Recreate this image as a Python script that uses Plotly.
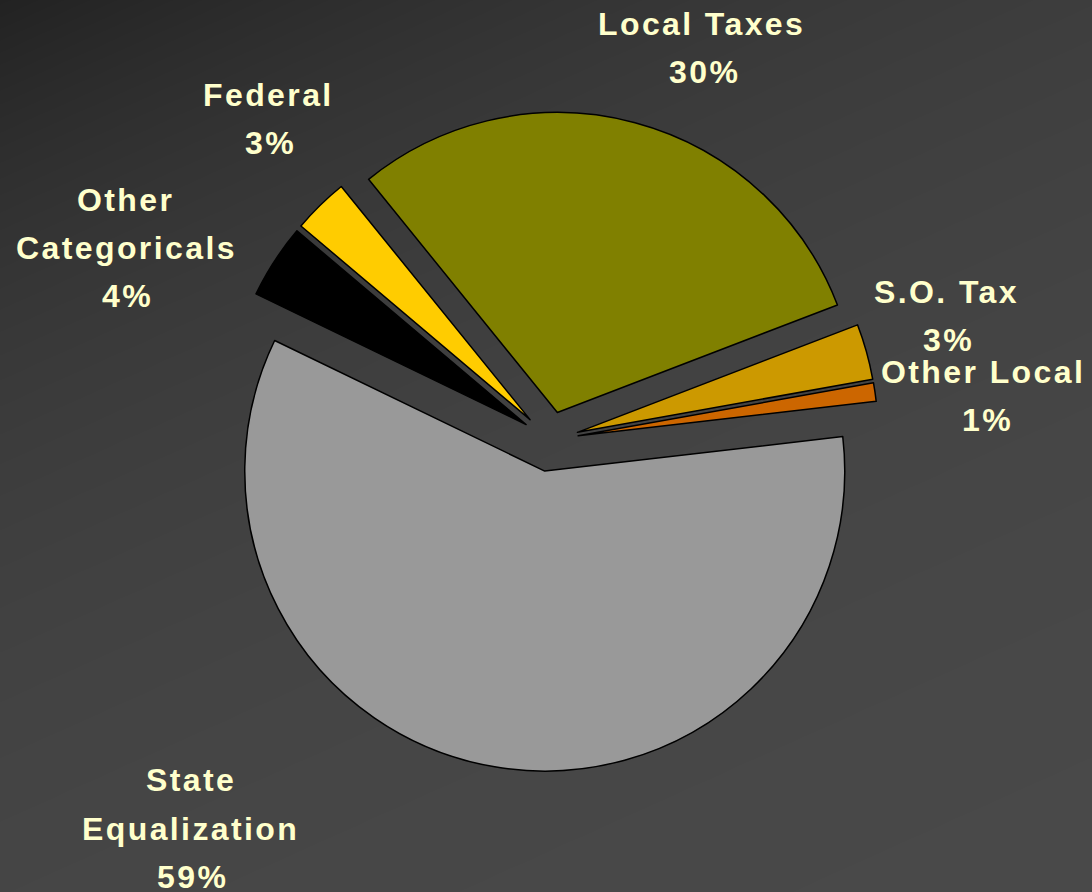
import numpy as np
import plotly.graph_objects as go

# Revenue sources, listed clockwise starting from Local Taxes
categories = ["Local Taxes", "S.O. Tax", "Other Local", "State Equalization",
              "Other Categoricals", "Federal"]
shares = [30, 3, 1, 59, 4, 3]

slice_colors = ["#808000", "#CC9900", "#CC6600", "#999999", "#000000", "#FFCC00"]
slice_pull = [0.095, 0.095, 0.095, 0.105, 0.095, 0.095]

W, H = 1092, 892

# Pie geometry in pixels
pie_cx, pie_cy, pie_r = 550, 440, 300
max_pull = max(slice_pull)
half = pie_r * (1 + max_pull)
dom_x = [(pie_cx - half) / W, (pie_cx + half) / W]
dom_y = [1 - (pie_cy + half) / H, 1 - (pie_cy - half) / H]

# Label line layout: names that wrap onto two lines
wrapped = {"State Equalization", "Other Categoricals"}
# Pixel centers of each label line (name lines followed by the percentage line)
label_pos = {
    "Local Taxes": [(701, 24), (704, 72)],
    "S.O. Tax": [(946, 292), (948, 340)],
    "Other Local": [(983, 372), (987, 420)],
    "State Equalization": [(191, 780), (190, 829), (192, 877)],
    "Other Categoricals": [(125, 200), (126, 248), (127, 296)],
    "Federal": [(268, 95), (270, 143)],
}

label_font = dict(family="Liberation Sans, Arial, sans-serif", size=32,
                  color="#FFFFCC", weight="bold")

fig = go.Figure()

# Dark diagonal backdrop
gx = np.linspace(-20, W + 20, 80)
gy = np.linspace(-20, H + 20, 70)
XX, YY = np.meshgrid(gx, gy)
t = np.clip(0.55 * XX / W + 1.0 * YY / H, 0, None)
shade = 34 + 41 * (1 - np.exp(-2.0 * t))
fig.add_trace(go.Heatmap(
    x=gx, y=gy, z=shade, zmin=34, zmax=75, zsmooth="best",
    colorscale=[[0, "rgb(34,34,34)"], [1, "rgb(75,75,75)"]],
    showscale=False, hoverinfo="skip",
))

fig.add_trace(go.Pie(
    labels=categories,
    values=shares,
    sort=False,
    direction="clockwise",
    rotation=-39,
    pull=slice_pull,
    marker=dict(colors=slice_colors, line=dict(color="#000000", width=1.5)),
    textinfo="none",
    hoverinfo="label+percent",
    domain=dict(x=dom_x, y=dom_y),
    showlegend=False,
))

annotations = []
for name, val in zip(categories, shares):
    lines = name.split(" ") if name in wrapped else [name]
    lines = lines + [f"{val}%"]
    for text, (px, py) in zip(lines, label_pos[name]):
        annotations.append(dict(
            x=px / W, y=1 - py / H, xref="paper", yref="paper",
            text=f'<span style="letter-spacing:2.4px">{text}</span>',
            showarrow=False, xanchor="center", yanchor="middle",
            font=label_font,
        ))

fig.update_layout(
    width=W, height=H,
    margin=dict(l=0, r=0, t=0, b=0),
    paper_bgcolor="#333333",
    plot_bgcolor="#333333",
    xaxis=dict(range=[0, W], visible=False, domain=[0, 1], fixedrange=True),
    yaxis=dict(range=[H, 0], visible=False, domain=[0, 1], fixedrange=True),
    annotations=annotations,
    showlegend=False,
)

fig.write_html("out.html")
